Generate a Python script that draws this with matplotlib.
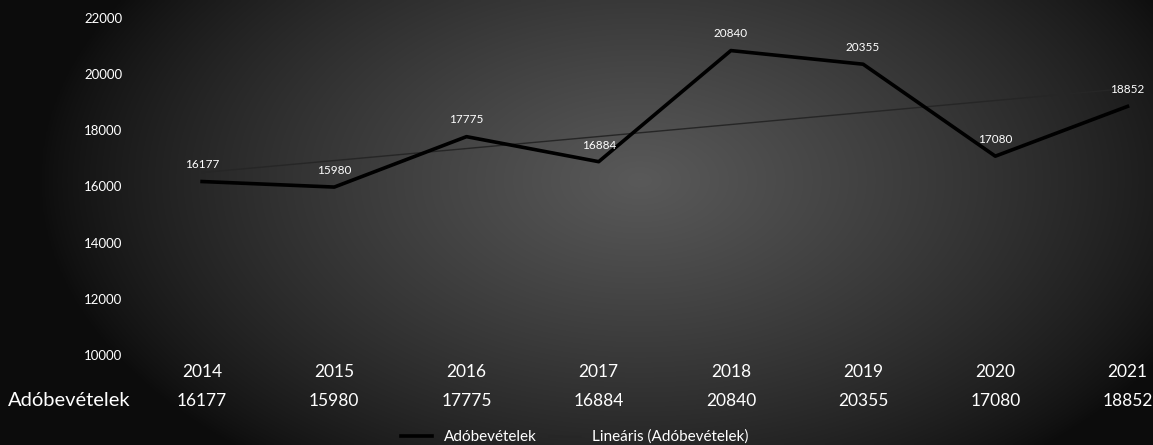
import numpy as np
import matplotlib
matplotlib.use("Agg")
import matplotlib.pyplot as plt
from matplotlib.lines import Line2D
import matplotlib.transforms as mtransforms

years = ["2014", "2015", "2016", "2017", "2018", "2019", "2020", "2021"]
values = [16177, 15980, 17775, 16884, 20840, 20355, 17080, 18852]
yticks = [10000, 12000, 14000, 16000, 18000, 20000, 22000]
series_name = "Adóbevételek"
trend_name = "Lineáris (Adóbevételek)"

FONT = ["Lato", "DejaVu Sans"]
plt.rcParams['font.family'] = FONT

W, H = 1153, 445
fig = plt.figure(figsize=(W / 100, H / 100), dpi=100)

# background: radial gradient
bg = fig.add_axes([0, 0, 1, 1])
gx = np.linspace(0, W, 400)
gy = np.linspace(0, H, 160)
X, Y = np.meshgrid(gx, gy)
cx, cy = 640, 180
r = np.sqrt(((X - cx) / 600.0) ** 2 + ((Y - cy) / 360.0) ** 2)
level = 0.05 + 0.30 * np.clip(1 - r, 0, 1) ** 0.8
img = np.dstack([level, level, level])
bg.imshow(img, extent=[0, W, H, 0], aspect='auto', interpolation='bilinear')
bg.set_xlim(0, W)
bg.set_ylim(H, 0)
bg.axis('off')

# main axes (category width ~132 px, last column partly off-figure)
col_w = 132.2
left_px = 136
bottom = (H - 355) / H
top = (H - 18) / H
ax = fig.add_axes([left_px / W, bottom, col_w * len(years) / W, top - bottom])
ax.patch.set_alpha(0)
x = np.arange(len(years))
ax.set_xlim(-0.5, len(years) - 0.5)
ax.set_ylim(10000, 22000)

coef = np.polyfit(x, values, 1)
trend = np.polyval(coef, x)
ax.plot(x, trend, color='#262626', lw=1.0, zorder=2)
ax.plot(x, values, color='black', lw=2.6, zorder=3, solid_joinstyle='round')

for xi, v in zip(x, values):
    ax.annotate(str(v), (xi, v), xytext=(0, 12), textcoords='offset points',
                ha='center', va='center', color='white', fontsize=8.5)

ax.set_yticks(yticks)
ax.set_xticks([])
ax.tick_params(axis='y', length=0, colors='white', labelsize=9.5, pad=10)
for s in ax.spines.values():
    s.set_visible(False)

# data table below
trans = mtransforms.blended_transform_factory(ax.transData, fig.transFigure)
for xi, yr, v in zip(x, years, values):
    ax.text(xi, (H - 372) / H, yr, transform=trans, ha='center', va='center',
            color='white', fontsize=12.5, clip_on=False)
    ax.text(xi, (H - 401) / H, str(v), transform=trans, ha='center', va='center',
            color='white', fontsize=12.5, clip_on=False)
fig.text(8 / W, (H - 401) / H, series_name, ha='left', va='center',
         color='white', fontsize=14.5)

handles = [Line2D([], [], color='black', lw=2.6),
           Line2D([], [], color='#262626', lw=1.0)]
leg = fig.legend(handles, [series_name, trend_name], loc='center',
                 bbox_to_anchor=(575 / W, (H - 437) / H), ncol=2, frameon=False,
                 fontsize=11, handlelength=2.0, handletextpad=0.8,
                 columnspacing=0.8, labelcolor='white', borderaxespad=0,
                 borderpad=0)

fig.savefig("out.png", dpi=100)
